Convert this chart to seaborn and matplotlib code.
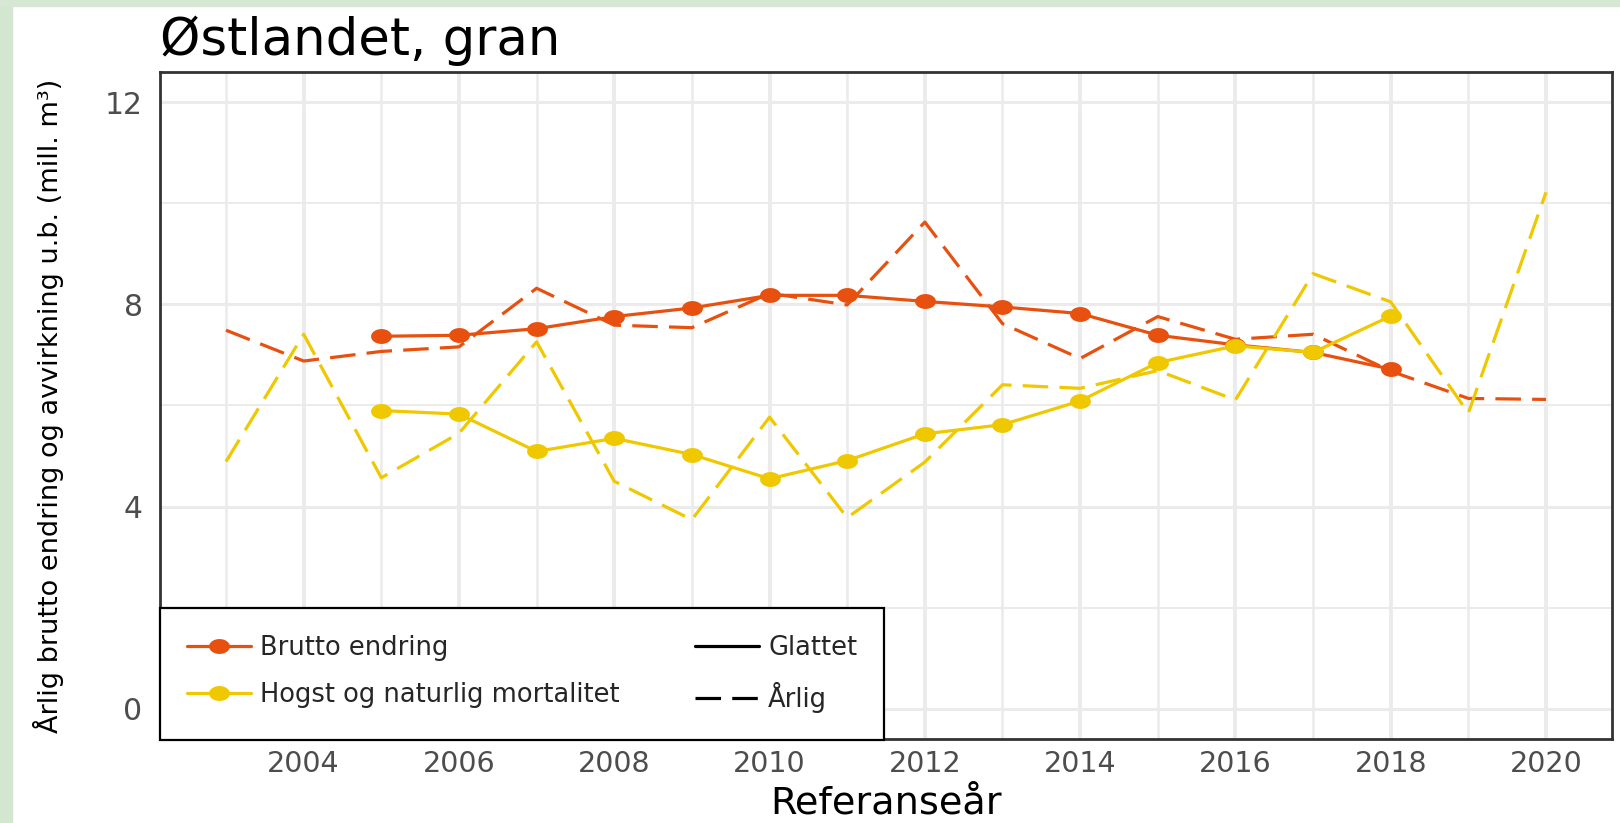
import numpy as np
import seaborn as sns
import matplotlib.pyplot as plt
from matplotlib.lines import Line2D
from matplotlib.patches import Rectangle
from matplotlib.path import Path
from matplotlib.ticker import MultipleLocator

# annual values (dashed) and smoothed values (solid with points)
years_annual = list(range(2003, 2021))
brutto_annual = [7.49, 6.88, 7.07, 7.16, 8.32, 7.59, 7.54, 8.22, 7.99, 9.63,
                 7.62, 6.93, 7.76, 7.31, 7.41, 6.68, 6.14, 6.12]
hogst_annual = [4.89, 7.41, 4.57, 5.45, 7.26, 4.50, 3.74, 5.77, 3.78, 4.88,
                6.41, 6.34, 6.69, 6.11, 8.61, 8.05, 5.85, 10.22]

years_smooth = list(range(2005, 2019))
brutto_smooth = [7.37, 7.39, 7.52, 7.76, 7.93, 8.18, 8.18, 8.06, 7.95, 7.82,
                 7.39, 7.20, 7.05, 6.72]
hogst_smooth = [5.90, 5.83, 5.09, 5.35, 5.03, 4.55, 4.91, 5.44, 5.62, 6.09,
                6.85, 7.18, 7.05, 7.77]

orange = "#E8500F"
yellow = "#EFC800"
dash = (0, (8, 3.5))

sns.set_style("white")
plt.rcParams['font.family'] = ['DejaVu Sans']

fig = plt.figure(figsize=(16.2, 8.23), dpi=100)

# light green frame from the slide
fig.patches.append(Rectangle((0, 0), 12 / 1620, 1, transform=fig.transFigure,
                             color="#D3E6D0", zorder=0))
fig.patches.append(Rectangle((0, 1 - 6 / 823), 1, 6 / 823, transform=fig.transFigure,
                             color="#D6E8D4", zorder=0))

ax = fig.add_axes([0.09877, 0.10207, 0.8963, 0.81045])

# slightly wide points, like in the stretched original
theta = np.linspace(0, 2 * np.pi, 60)
ell = Path(np.column_stack([1.4 * np.cos(theta), np.sin(theta)]), closed=True)

sns.lineplot(x=years_annual, y=brutto_annual, color=orange, lw=2.3, linestyle=dash, ax=ax)
sns.lineplot(x=years_annual, y=hogst_annual, color=yellow, lw=2.3, linestyle=dash, ax=ax)
sns.lineplot(x=years_smooth, y=brutto_smooth, color=orange, lw=2.3,
             marker=ell, markersize=15, markeredgewidth=0, ax=ax)
sns.lineplot(x=years_smooth, y=hogst_smooth, color=yellow, lw=2.3,
             marker=ell, markersize=15, markeredgewidth=0, ax=ax)

ax.set_xlim(2002.15, 2020.85)
ax.set_ylim(-0.6, 12.6)
ax.xaxis.set_major_locator(MultipleLocator(2))
ax.xaxis.set_minor_locator(MultipleLocator(1))
ax.yaxis.set_major_locator(MultipleLocator(4))
ax.yaxis.set_minor_locator(MultipleLocator(2))
ax.grid(which="major", axis="x", color="#EBEBEB", lw=2.8, zorder=0)
ax.grid(which="minor", axis="x", color="#EBEBEB", lw=1.8, zorder=0)
ax.grid(which="major", axis="y", color="#EBEBEB", lw=2.2, zorder=0)
ax.grid(which="minor", axis="y", color="#EBEBEB", lw=1.4, zorder=0)
ax.set_axisbelow(True)

for s in ax.spines.values():
    s.set_color("#333333")
    s.set_linewidth(2)

ax.tick_params(axis="x", which="major", length=5.8, width=2, color="#333333",
               labelsize=20.5, labelcolor="#4D4D4D", pad=2)
ax.tick_params(axis="y", which="major", length=8.6, width=1.6, color="#333333",
               labelsize=21.5, labelcolor="#4D4D4D", pad=4)
ax.tick_params(which="minor", length=0)

ax.set_xlabel("Referanseår", fontsize=27.5, va="center", color="black")
ax.xaxis.set_label_coords(0.5, -0.097)
ax.set_ylabel("Årlig brutto endring og avvirkning u.b. (mill. m³)", fontsize=19.5,
              va="center", color="black")
ax.yaxis.set_label_coords(-0.0771, 0.5)

fig.text(160 / 1620, 1 - 41 / 823, "Østlandet, gran", fontsize=37, ha="left",
         va="center", color="black")

handles = [
    Line2D([], [], color=orange, lw=2.3, marker=ell, markersize=15, markeredgewidth=0),
    Line2D([], [], color=yellow, lw=2.3, marker=ell, markersize=15, markeredgewidth=0),
    Line2D([], [], color="black", lw=2.3),
    Line2D([], [], color="black", lw=2.3, linestyle=dash),
]
labels = ["Brutto endring", "Hogst og naturlig mortalitet", "Glattet", "Årlig"]
leg = fig.legend(handles, labels, ncol=2, loc="upper left",
                 bbox_to_anchor=(160 / 1620, 1 - 608 / 823), bbox_transform=fig.transFigure,
                 borderaxespad=0, fontsize=18.5, handlelength=2.5, handletextpad=0.36,
                 columnspacing=2.9, borderpad=1.05, labelspacing=0.83, frameon=True,
                 fancybox=False, edgecolor="black", framealpha=1)
leg.get_frame().set_linewidth(1.6)

fig.savefig("out.png", dpi=100)
